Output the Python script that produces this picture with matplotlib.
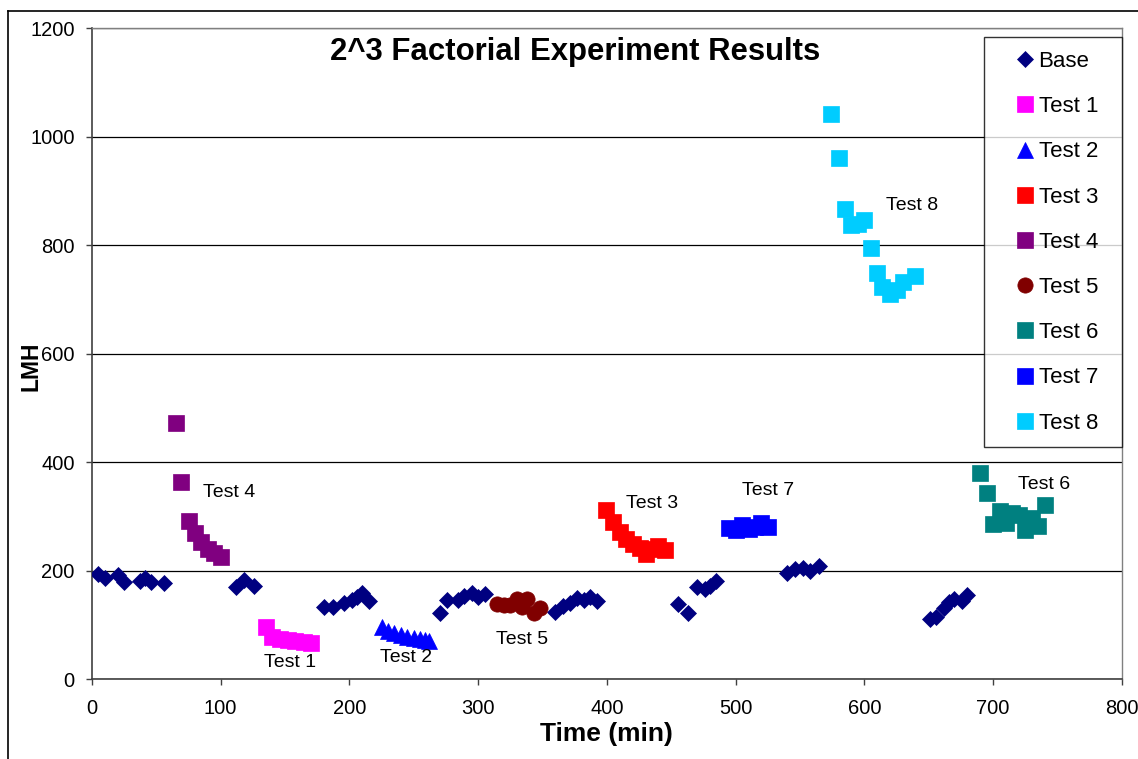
import matplotlib
matplotlib.use("Agg")
import matplotlib.pyplot as plt
from matplotlib.lines import Line2D

plt.rcParams['font.family'] = ['Liberation Sans', 'DejaVu Sans']

# base runs between the tests
base_t = [5, 10, 20, 25, 37, 41, 46, 56,
          112, 118, 126,
          180, 187, 196, 202, 206, 210, 215,
          270, 276, 284, 289, 295, 300, 305,
          360, 366, 371, 377, 382, 387, 392,
          455, 463, 470, 476, 480, 485,
          540, 546, 552, 558, 565,
          651, 656, 662, 666, 670, 676, 680]
base_lmh = [193, 186, 192, 179, 181, 186, 179, 177,
            170, 182, 171,
            132, 133, 140, 146, 152, 159, 143,
            122, 146, 146, 153, 158, 151, 157,
            124, 134, 140, 150, 146, 151, 144,
            138, 121, 170, 165, 172, 180,
            195, 202, 205, 200, 208,
            110, 114, 130, 142, 147, 144, 155]

t1_t = [135, 140, 146, 152, 158, 165, 170]
t1_lmh = [96, 77, 74, 72, 70, 68, 66]

t2_t = [225, 230, 235, 240, 245, 250, 255, 259, 262]
t2_lmh = [95, 88, 84, 81, 78, 76, 74, 72, 70]

t3_t = [399, 405, 410, 415, 420, 426, 430, 435, 440, 445]
t3_lmh = [311, 289, 271, 258, 249, 241, 230, 239, 245, 238]

t4_t = [65, 69, 75, 80, 85, 90, 95, 100]
t4_lmh = [472, 363, 291, 270, 252, 240, 232, 225]

t5_t = [315, 320, 325, 330, 334, 338, 343, 348]
t5_lmh = [138, 137, 137, 148, 133, 148, 122, 130]

t6_t = [690, 695, 700, 705, 710, 715, 720, 725, 730, 735, 740]
t6_lmh = [380, 343, 285, 310, 288, 306, 302, 275, 296, 282, 321]

t7_t = [495, 500, 505, 510, 515, 520, 525]
t7_lmh = [278, 275, 283, 277, 280, 287, 281]

t8_t = [574, 580, 585, 590, 595, 600, 605, 610, 614, 620, 625, 630, 639]
t8_lmh = [1041, 960, 866, 837, 839, 846, 794, 748, 723, 710, 717, 732, 743]

series = [
    ("Base", base_t, base_lmh, "D", 8, "#000080"),
    ("Test 1", t1_t, t1_lmh, "s", 11, "#FF00FF"),
    ("Test 2", t2_t, t2_lmh, "^", 11, "#0000FF"),
    ("Test 3", t3_t, t3_lmh, "s", 11, "#FF0000"),
    ("Test 4", t4_t, t4_lmh, "s", 11, "#800080"),
    ("Test 5", t5_t, t5_lmh, "o", 11, "#800000"),
    ("Test 6", t6_t, t6_lmh, "s", 11, "#008080"),
    ("Test 7", t7_t, t7_lmh, "s", 11, "#0000FF"),
    ("Test 8", t8_t, t8_lmh, "s", 11, "#00CCFF"),
]

# text labels next to each test
notes = [("Test 4", 86, 343), ("Test 1", 134, 31), ("Test 2", 224, 39),
         ("Test 5", 314, 72), ("Test 3", 415, 324), ("Test 7", 505, 348),
         ("Test 6", 719, 358), ("Test 8", 617, 872)]

fig = plt.figure(figsize=(11.38, 7.59), dpi=100)
ax = fig.add_axes([0.0808, 0.1054, 0.905, 0.8577])

for name, t, y, m, ms, c in series:
    ax.plot(t, y, linestyle="none", marker=m, markersize=ms, color=c,
            markeredgecolor=c, markeredgewidth=0.5, label=name, zorder=3)

for txt, x, y in notes:
    ax.text(x, y, txt, fontsize=14, ha="left", va="center", zorder=4)

ax.text(375, 1156, "2^3 Factorial Experiment Results", fontsize=22.4,
        fontweight="bold", ha="center", va="center")

ax.set_xlim(0, 800)
ax.set_ylim(0, 1200)
ax.set_xticks(range(0, 801, 100))
ax.set_yticks(range(0, 1201, 200))
ax.yaxis.grid(True, color="black", linewidth=0.9)
ax.set_axisbelow(True)
ax.tick_params(axis="both", direction="out", length=4.5, width=1,
               color="#404040", labelsize=14.5)
ax.tick_params(axis="x", pad=10)
ax.tick_params(axis="y", pad=8)
for s in ["left", "bottom"]:
    ax.spines[s].set_color("#404040")
    ax.spines[s].set_linewidth(1.2)
for s in ["top", "right"]:
    ax.spines[s].set_color("#808080")
    ax.spines[s].set_linewidth(1.0)

ax.set_xlabel("Time (min)", fontsize=19, fontweight="bold", labelpad=3)
ax.set_ylabel("LMH", fontsize=16.5, fontweight="bold")
ax.yaxis.set_label_coords(-0.0485, 0.481)

leg = ax.legend(loc="upper left", bbox_to_anchor=(0.866, 0.0, 0.134, 0.986),
                mode="expand", fontsize=16, frameon=True, fancybox=False,
                shadow=False, borderpad=0.62, labelspacing=1.09,
                handlelength=2.43, handletextpad=-0.59, borderaxespad=0.0,
                numpoints=1)
leg.get_frame().set_edgecolor("black")
leg.get_frame().set_linewidth(1.0)

# chart frame
fig.add_artist(Line2D([0.007, 0.007], [0.0, 0.9855], color="black", lw=1.2))
fig.add_artist(Line2D([0.007, 1.0], [0.9855, 0.9855], color="black", lw=1.2))

fig.savefig("out.png", dpi=100)
